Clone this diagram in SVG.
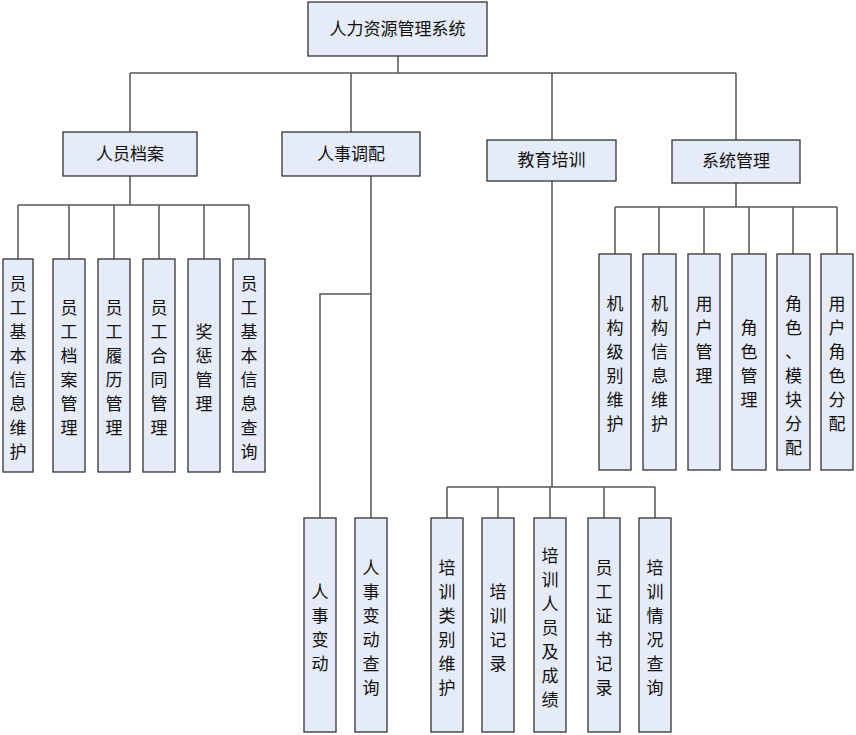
<svg xmlns="http://www.w3.org/2000/svg" width="856" height="735" viewBox="0 0 856 735">
<style>
rect{fill:#e6ecf7;stroke:#333;stroke-width:1.3}
text{font-family:"Noto Sans CJK SC",sans-serif;font-size:17px;fill:#111;text-anchor:middle}
.c path{fill:none;stroke:#555;stroke-width:1.5}
</style>
<rect width="856" height="735" style="fill:#fff;stroke:none"/>
<g class="c">
<path d="M398 56V73M130 73H736M130 73V132M351 73V132M552 73V140M736 73V140"/>
<path d="M130 176V205M18 205H249M18 205V259M69 205V259M114 205V259M159 205V259M204 205V259M249 205V259"/>
<path d="M371 176V518M371 294H320V518"/>
<path d="M552 181V487M447 487H655M447 487V518M498 487V518M550 487V518M604 487V518M655 487V518"/>
<path d="M736 183V207M615 207H837M615 207V254M659 207V254M704 207V254M749 207V254M793 207V254M837 207V254"/>
</g>
<g id="root"><rect x="308" y="2" width="179" height="54"/><text x="397.5" y="35">人力资源管理系统</text></g>
<g id="n1"><rect x="63" y="132" width="134" height="44"/><text x="130" y="160">人员档案</text></g>
<g id="n2"><rect x="282" y="132" width="138" height="44"/><text x="351" y="160">人事调配</text></g>
<g id="n3"><rect x="487" y="140" width="129" height="41"/><text x="551.5" y="166">教育培训</text></g>
<g id="n4"><rect x="672" y="140" width="128" height="43"/><text x="736" y="167">系统管理</text></g>
<g id="a1"><rect x="3" y="259" width="30" height="213"/><text x="18" y="0"><tspan x="18" y="290">员</tspan><tspan x="18" dy="24">工</tspan><tspan x="18" dy="24">基</tspan><tspan x="18" dy="24">本</tspan><tspan x="18" dy="24">信</tspan><tspan x="18" dy="24">息</tspan><tspan x="18" dy="24">维</tspan><tspan x="18" dy="24">护</tspan></text></g>
<g id="a2"><rect x="53" y="259" width="32" height="213"/><text><tspan x="69" y="314">员</tspan><tspan x="69" dy="24">工</tspan><tspan x="69" dy="24">档</tspan><tspan x="69" dy="24">案</tspan><tspan x="69" dy="24">管</tspan><tspan x="69" dy="24">理</tspan></text></g>
<g id="a3"><rect x="98" y="259" width="32" height="213"/><text><tspan x="114" y="314">员</tspan><tspan x="114" dy="24">工</tspan><tspan x="114" dy="24">履</tspan><tspan x="114" dy="24">历</tspan><tspan x="114" dy="24">管</tspan><tspan x="114" dy="24">理</tspan></text></g>
<g id="a4"><rect x="143" y="259" width="32" height="213"/><text><tspan x="159" y="314">员</tspan><tspan x="159" dy="24">工</tspan><tspan x="159" dy="24">合</tspan><tspan x="159" dy="24">同</tspan><tspan x="159" dy="24">管</tspan><tspan x="159" dy="24">理</tspan></text></g>
<g id="a5"><rect x="188" y="259" width="32" height="213"/><text><tspan x="204" y="338">奖</tspan><tspan x="204" dy="24">惩</tspan><tspan x="204" dy="24">管</tspan><tspan x="204" dy="24">理</tspan></text></g>
<g id="a6"><rect x="233" y="259" width="32" height="213"/><text><tspan x="249" y="290">员</tspan><tspan x="249" dy="24">工</tspan><tspan x="249" dy="24">基</tspan><tspan x="249" dy="24">本</tspan><tspan x="249" dy="24">信</tspan><tspan x="249" dy="24">息</tspan><tspan x="249" dy="24">查</tspan><tspan x="249" dy="24">询</tspan></text></g>
<g id="b1"><rect x="304" y="518" width="32" height="214"/><text><tspan x="320" y="598">人</tspan><tspan x="320" dy="24">事</tspan><tspan x="320" dy="24">变</tspan><tspan x="320" dy="24">动</tspan></text></g>
<g id="b2"><rect x="355" y="518" width="32" height="214"/><text><tspan x="371" y="574">人</tspan><tspan x="371" dy="24">事</tspan><tspan x="371" dy="24">变</tspan><tspan x="371" dy="24">动</tspan><tspan x="371" dy="24">查</tspan><tspan x="371" dy="24">询</tspan></text></g>
<g id="c1"><rect x="431" y="518" width="32" height="214"/><text><tspan x="447" y="574">培</tspan><tspan x="447" dy="24">训</tspan><tspan x="447" dy="24">类</tspan><tspan x="447" dy="24">别</tspan><tspan x="447" dy="24">维</tspan><tspan x="447" dy="24">护</tspan></text></g>
<g id="c2"><rect x="482" y="518" width="32" height="214"/><text><tspan x="498" y="598">培</tspan><tspan x="498" dy="24">训</tspan><tspan x="498" dy="24">记</tspan><tspan x="498" dy="24">录</tspan></text></g>
<g id="c3"><rect x="534" y="518" width="32" height="214"/><text><tspan x="550" y="562">培</tspan><tspan x="550" dy="24">训</tspan><tspan x="550" dy="24">人</tspan><tspan x="550" dy="24">员</tspan><tspan x="550" dy="24">及</tspan><tspan x="550" dy="24">成</tspan><tspan x="550" dy="24">绩</tspan></text></g>
<g id="c4"><rect x="588" y="518" width="32" height="214"/><text><tspan x="604" y="574">员</tspan><tspan x="604" dy="24">工</tspan><tspan x="604" dy="24">证</tspan><tspan x="604" dy="24">书</tspan><tspan x="604" dy="24">记</tspan><tspan x="604" dy="24">录</tspan></text></g>
<g id="c5"><rect x="639" y="518" width="32" height="214"/><text><tspan x="655" y="574">培</tspan><tspan x="655" dy="24">训</tspan><tspan x="655" dy="24">情</tspan><tspan x="655" dy="24">况</tspan><tspan x="655" dy="24">查</tspan><tspan x="655" dy="24">询</tspan></text></g>
<g id="d1"><rect x="599" y="254" width="32" height="216"/><text><tspan x="615" y="310">机</tspan><tspan x="615" dy="24">构</tspan><tspan x="615" dy="24">级</tspan><tspan x="615" dy="24">别</tspan><tspan x="615" dy="24">维</tspan><tspan x="615" dy="24">护</tspan></text></g>
<g id="d2"><rect x="643" y="254" width="33" height="216"/><text><tspan x="659.5" y="310">机</tspan><tspan x="659.5" dy="24">构</tspan><tspan x="659.5" dy="24">信</tspan><tspan x="659.5" dy="24">息</tspan><tspan x="659.5" dy="24">维</tspan><tspan x="659.5" dy="24">护</tspan></text></g>
<g id="d3"><rect x="688" y="254" width="32" height="216"/><text><tspan x="704" y="310">用</tspan><tspan x="704" dy="24">户</tspan><tspan x="704" dy="24">管</tspan><tspan x="704" dy="24">理</tspan></text></g>
<g id="d4"><rect x="732" y="254" width="34" height="216"/><text><tspan x="749" y="334">角</tspan><tspan x="749" dy="24">色</tspan><tspan x="749" dy="24">管</tspan><tspan x="749" dy="24">理</tspan></text></g>
<g id="d5"><rect x="777" y="254" width="33" height="216"/><text><tspan x="793.5" y="310">角</tspan><tspan x="793.5" dy="24">色</tspan><tspan x="793.5" dy="24">、</tspan><tspan x="793.5" dy="24">模</tspan><tspan x="793.5" dy="24">块</tspan><tspan x="793.5" dy="24">分</tspan><tspan x="793.5" dy="24">配</tspan></text></g>
<g id="d6"><rect x="821" y="254" width="32" height="216"/><text><tspan x="837" y="310">用</tspan><tspan x="837" dy="24">户</tspan><tspan x="837" dy="24">角</tspan><tspan x="837" dy="24">色</tspan><tspan x="837" dy="24">分</tspan><tspan x="837" dy="24">配</tspan></text></g>
</svg>
